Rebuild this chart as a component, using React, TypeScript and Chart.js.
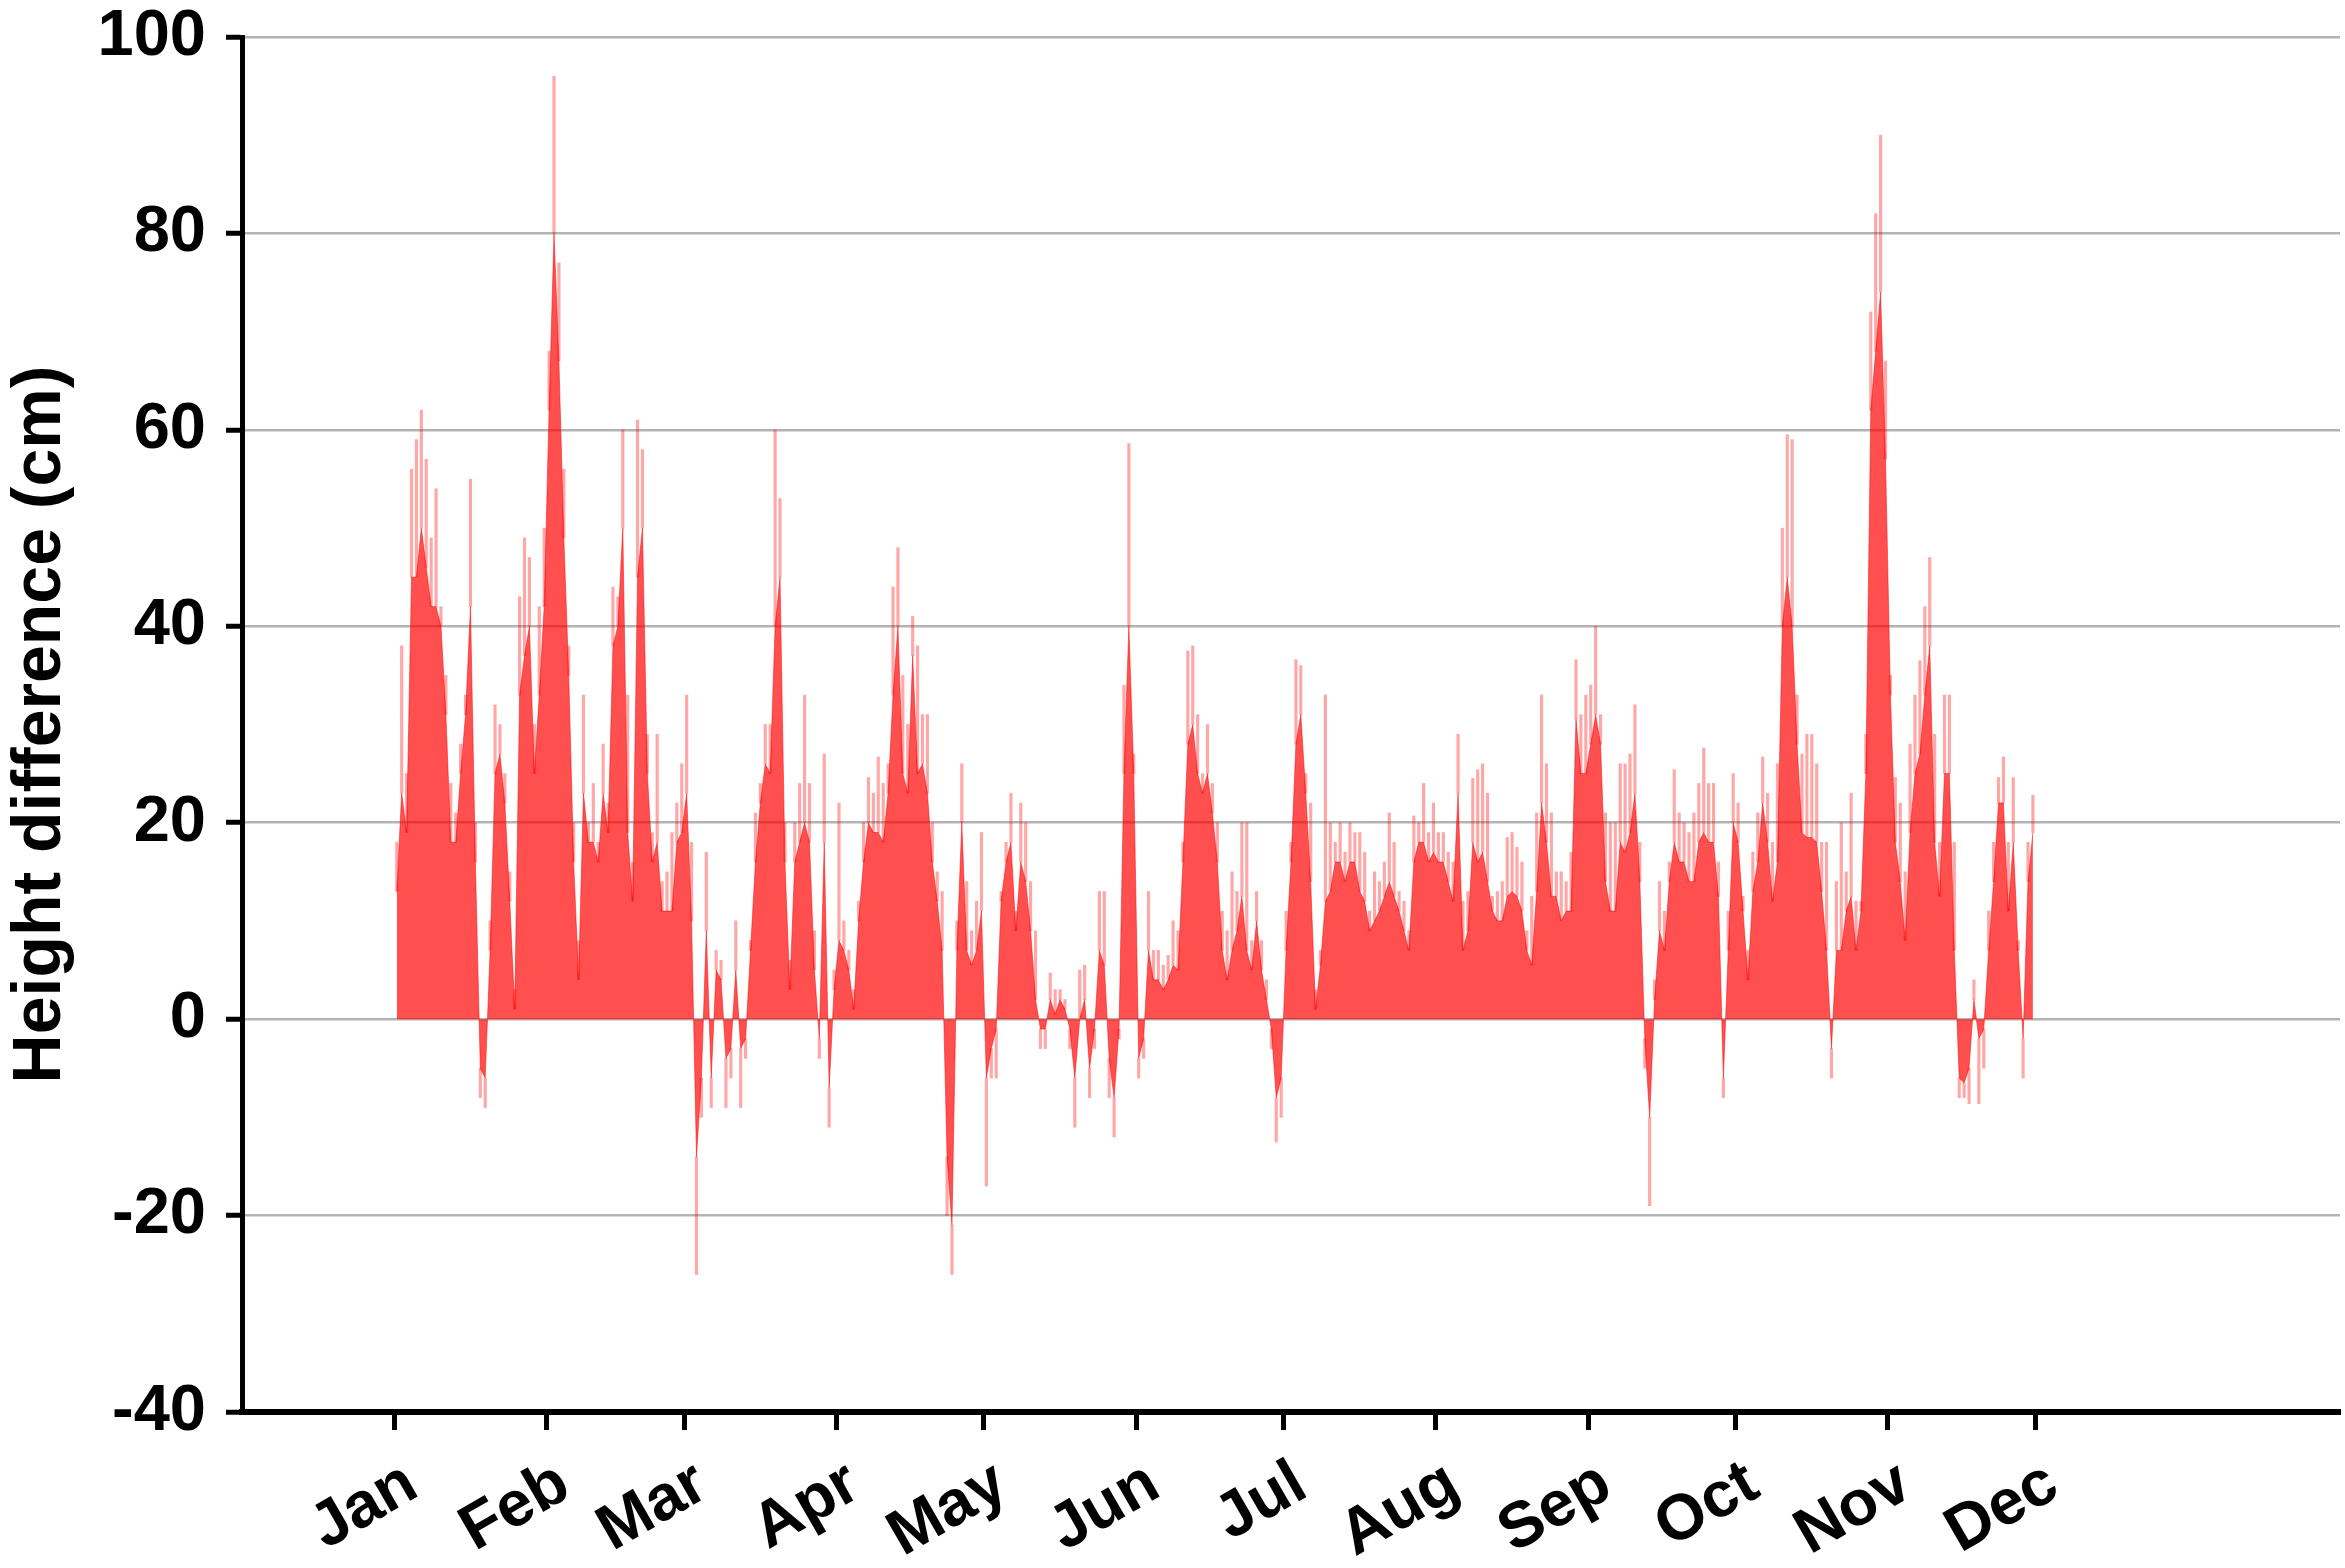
import React, { useEffect, useRef } from 'react';
import { Chart, registerables } from 'chart.js';

Chart.register(...registerables);

// Day index (0 = 1 Jan) at which each month starts
const monthStarts = [0, 31, 59, 90, 120, 151, 181, 212, 243, 273, 304, 334];
const monthNames = ['Jan', 'Feb', 'Mar', 'Apr', 'May', 'Jun', 'Jul', 'Aug', 'Sep', 'Oct', 'Nov', 'Dec'];

// Daily height difference (cm): main level of each day, from 1 Jan
const dailyLevel = [
  13, 23, 19, 45, 45, 50, 46, 42, 42, 40,
  31, 18, 18, 25, 31, 42, 16, -5, -6, 7,
  25, 27, 22, 12, 1, 33, 37, 40, 25, 33,
  42, 62, 80, 67, 49, 35, 16, 4, 23, 18,
  18, 16, 23, 19, 38, 40, 50, 19, 12, 45,
  50, 25, 16, 18, 11, 11, 11, 18, 19, 23,
  10, -14, -6, 9, -6, 5, 4, -4, -3, 5,
  -3, -2, 7, 16, 22, 26, 25, 40, 45, 16,
  3, 16, 18, 20, 18, 5, -2, 18, -7, 3,
  8, 7, 5, 1, 10, 16, 20, 19, 19, 18,
  23, 33, 40, 25, 23, 37, 25, 26, 23, 16,
  12, 7, -14, -21, 7, 20, 7, 5.5, 7, 11,
  -6, -3, -1, 12, 16, 18, 9, 16, 14, 9,
  2, -1, -1, 2, 0.5, 2, 1, -1, -6, 0,
  2, -5, -1, 7, 5.5, -4, -8, -1, 25, 40,
  25, -4, -2, 7, 4, 4, 3, 4, 5.5, 5,
  16, 28, 30, 25, 23, 25, 21, 16, 7, 4,
  7, 9, 12.5, 7, 5, 10, 5, 2, -1, -8,
  -6, 7, 16, 28, 31, 23, 14, 1, 5.5, 12,
  13, 16, 16, 14, 16, 16, 13, 12, 9, 10,
  11, 12.5, 14, 12.5, 11, 9, 7, 16, 18, 18,
  16, 17, 16, 16, 14, 12, 23, 7, 9, 18,
  16, 17, 14, 11, 10, 10, 12.5, 13, 12.5, 11,
  7, 5.5, 13, 22, 18, 12.5, 12.5, 10, 11, 11,
  30.6, 25, 25, 28, 31, 28, 14, 11, 11, 18,
  17, 19, 23, 14, -2, -10, 2, 9, 7, 14,
  18, 16, 16, 14, 14, 18, 19, 18, 18, 12.5,
  -6, 7, 20, 18, 11, 4, 13, 16, 22, 18,
  12, 16, 40, 45, 40, 28, 19, 18.5, 18.5, 18,
  13, 7, -3, 7, 7, 11, 12.5, 7, 11, 25,
  62, 68, 74, 57, 33, 18, 14, 8, 19, 25,
  27, 33, 38, 18, 12.5, 25, 25, 7, -6, -6.5,
  -5, 2, -2, -1, 7, 14, 22, 22, 11, 18,
  7, -2, 14, 19,
];

// Daily extreme (short spikes) of height difference (cm)
const dailyExtreme = [
  18, 38, 25, 56, 59, 62, 57, 49, 54, 42,
  35, 24, 21, 28, 33, 55, 20, -8, -9, 10,
  32, 30, 25, 15, 3, 43, 49, 47, 30, 42,
  50, 68, 96, 77, 56, 38, 20, 8, 33, 20,
  24, 18, 28, 22, 44, 43, 60, 33, 16, 61,
  58, 29, 19, 29, 14, 15, 19, 22, 26, 33,
  18, -26, -10, 17, -9, 7, 6, -9, -6, 10,
  -9, -4, 8, 21, 24, 30, 30, 60, 53, 20,
  6, 20, 24, 33, 24, 9, -4, 27, -11, 5,
  22, 10, 7, 3, 12, 20, 24.6, 23, 26.7, 24,
  26, 44, 48, 35, 30, 41, 38, 31, 31, 20,
  15, 13, -20, -26, 10, 26, 14, 9, 12, 19,
  -17, -6, -6, 13, 18, 23, 11, 22, 20, 14,
  9, -3, -3, 4.7, 3, 3, 2, -3, -11, 5,
  5.5, -8, -3, 13, 13, -8, -12, -2, 34, 58.6,
  27, -6, -4, 13, 7, 7, 5.5, 6.5, 10, 9,
  18, 37.5, 38, 31, 25, 30, 24, 20, 11, 9,
  15, 13, 20, 20, 8, 13, 8, 4, -3, -12.5,
  -10, 11, 18, 36.6, 36, 25, 22, 3, 7, 33,
  20, 18, 20, 17, 20, 19, 19, 17, 11, 15,
  14, 16, 21, 18, 13, 12, 9, 20.7, 20, 24,
  19, 22, 19, 19, 17, 16, 29, 12, 13, 24.5,
  25.4, 26, 23, 12.5, 13, 14, 18.5, 19, 17.5, 16,
  9, 12.5, 21, 33, 26, 21, 15, 15, 14, 17,
  36.6, 31, 33, 34, 40, 31, 21, 20, 20, 26,
  26, 27, 32, 18, -5, -19, 4, 14, 11, 16,
  25.4, 21, 20, 19, 21, 24, 27.6, 24, 24, 16,
  -8, 11, 25, 22, 12.5, 7, 17, 21, 26.7, 23,
  18, 26, 50, 59.5, 59, 33, 27, 29, 29, 26,
  18, 18, -6, 14, 20, 15, 23, 12, 12, 29,
  72, 82, 90, 67, 35, 24.6, 22, 15, 28, 33,
  36.5, 42, 47, 29, 18, 33, 33, 18, -8, -8,
  -8.6, 4, -8.6, -5, 11, 18, 24.6, 26.7, 18, 24.6,
  8, -6, 18, 22.8,
];

const xMinDay = -31;
const xMaxDay = 396;
const yMin = -40;
const yMax = 100;
const yStep = 20;
const yTitle = 'Height difference (cm)';

const FONT = "'Liberation Sans', Arial, Helvetica, sans-serif";

export default function App() {
  const canvasRef = useRef<HTMLCanvasElement | null>(null);

  useEffect(() => {
    const canvas = canvasRef.current;
    if (!canvas) return;
    const levelData = dailyLevel.map((v, i) => ({ x: i + 0.5, y: v }));
    const extremeData = dailyExtreme.map((v, i) => ({ x: i + 0.5, y: [dailyLevel[i], v] }));

    const chart = new Chart(canvas, {
      type: 'bar',
      data: {
        datasets: [
          {
            type: 'line',
            label: 'level',
            data: levelData as any,
            backgroundColor: 'rgba(255,0,0,0.69)',
            borderColor: 'rgba(255,0,0,0.5)',
            borderWidth: 1,
            pointRadius: 0,
            fill: 'origin',
            tension: 0,
            order: 1,
          } as any,
          {
            type: 'bar',
            label: 'extreme',
            data: extremeData as any,
            backgroundColor: 'rgba(255,0,0,0.35)',
            borderWidth: 0,
            barThickness: 2.5,
            grouped: false,
            order: 2,
          } as any,
        ],
      },
      options: {
        responsive: false,
        animation: false,
        layout: { padding: { top: 37, right: 5, left: 0, bottom: 0 } },
        plugins: { legend: { display: false }, tooltip: { enabled: false } },
        scales: {
          x: {
            type: 'linear',
            min: xMinDay,
            max: xMaxDay,
            offset: false,
            afterBuildTicks: (scale: any) => {
              scale.ticks = monthStarts.map((v) => ({ value: v }));
            },
            afterFit: (scale: any) => {
              scale.height = 156;
              scale.paddingLeft = 0;
              scale.paddingRight = 0;
            },
            ticks: {
              autoSkip: false,
              minRotation: 30,
              maxRotation: 30,
              padding: 16,
              labelOffset: 18,
              color: '#000',
              font: { family: FONT, size: 64, weight: 'bold' },
              callback: (value: any) => {
                const idx = monthStarts.indexOf(Number(value));
                return idx >= 0 ? monthNames[idx] : '';
              },
            },
            grid: {
              offset: false,
              drawOnChartArea: false,
              drawTicks: true,
              tickLength: 18,
              tickColor: '#000',
              tickWidth: 5,
            },
            border: { display: true, color: '#000', width: 6 },
          } as any,
          y: {
            min: yMin,
            max: yMax,
            afterFit: (scale: any) => {
              scale.width = 242;
              scale.paddingTop = 0;
              scale.paddingBottom = 0;
            },
            ticks: {
              stepSize: yStep,
              padding: 20,
              color: '#000',
              font: { family: FONT, size: 65, weight: 'bold' },
            },
            grid: {
              color: '#b3b3b3',
              lineWidth: 2.5,
              tickLength: 16,
              tickColor: '#000',
              tickWidth: 5,
            },
            border: { display: true, color: '#000', width: 5 },
            title: {
              display: true,
              text: yTitle,
              color: '#000',
              padding: 0,
              font: { family: FONT, size: 68, weight: 'bold', lineHeight: 1.2 },
            },
          } as any,
        },
      },
    });
    return () => chart.destroy();
  }, []);

  return (
    <div style={{ position: 'fixed', left: 0, top: 0, width: 2345, height: 1568, background: '#fff' }}>
      <canvas ref={canvasRef} width={2345} height={1568} style={{ display: 'block', width: 2345, height: 1568 }} />
    </div>
  );
}
